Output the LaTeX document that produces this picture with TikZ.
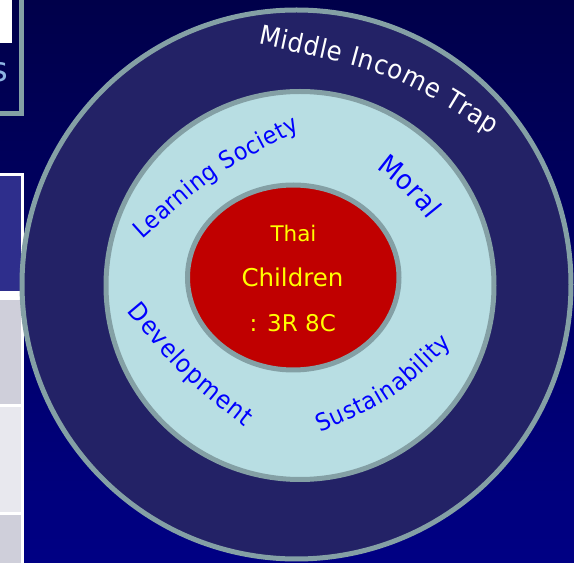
\documentclass[tikz,border=0pt]{standalone}
\usepackage{fontspec}
\newfontfamily\dejavu{DejaVu Sans}
\newfontfamily\dejavunarrow[FakeStretch=0.92]{DejaVu Sans}
\usetikzlibrary{decorations.text}
\definecolor{bgtop}{RGB}{0,0,74}
\definecolor{bgbot}{RGB}{0,0,132}
\definecolor{ringborder}{RGB}{132,160,165}
\definecolor{outerfill}{RGB}{35,34,102}
\definecolor{midfill}{RGB}{184,222,227}
\definecolor{innerfill}{RGB}{192,0,0}
\definecolor{tblblue}{RGB}{46,46,140}
\definecolor{tblgray}{RGB}{207,207,218}
\definecolor{tbllight}{RGB}{232,232,238}
\definecolor{sblue}{RGB}{141,180,226}
\definecolor{wordblue}{RGB}{0,0,255}
\definecolor{wordyellow}{RGB}{255,255,0}
\begin{document}
\begin{tikzpicture}[x=1pt,y=1pt,
  ring/.style={draw=ringborder, line width=5pt},
  centretext/.style={text=wordyellow, font=\dejavu, anchor=base, inner sep=0pt},
]
\useasboundingbox (0,0) rectangle (574,563);
\clip (0,0) rectangle (574,563);
\shade[top color=bgtop, bottom color=bgbot] (0,0) rectangle (574,563);
% left fragments
\fill[white] (-50,520) rectangle (11.5,600);
\draw[ringborder, line width=5pt] (-50,449.5) -- (21.5,449.5) -- (21.5,600);
\node[text=sblue, font=\dejavu\fontsize{34}{34}\selectfont, anchor=base east, inner sep=0pt] (sfrag) at (8.5,481) {s};
\fill[white] (-50,-10) rectangle (24,390);
\fill[tblblue] (-50,272) rectangle (20.7,387);
\fill[tblgray] (-50,159) rectangle (20.7,263);
\fill[tbllight] (-50,51) rectangle (20.7,156);
\fill[tblgray] (-50,-10) rectangle (20.7,48);
% rings
\filldraw[ring, fill=outerfill] (296.5,278.5) circle[radius=274.5];
\filldraw[ring, fill=midfill] (300,277.5) circle[radius=194];
\filldraw[ring, fill=innerfill] (293.25,285.5) ellipse[x radius=105.75, y radius=92.5];
% centre text
\node[centretext, font=\dejavu\fontsize{21.5}{21.5}\selectfont] (thai) at (293.5,321) {Thai};
\node[centretext, font=\dejavu\fontsize{24.5}{24.5}\selectfont] (children) at (292.5,276) {Children};
\node[centretext, font=\dejavu\fontsize{23}{23}\selectfont] (code) at (292.8,231) {: 3R 8C};
% curved texts
\path[decorate, decoration={text along path, text align=fit to path, text color=white,
  text={|\dejavunarrow\fontsize{26.5}{26.5}\selectfont|Middle Income Trap}}]
  (258,519) .. controls (391.4,490.6) .. (492,428);
\path[decorate, decoration={text along path, text align=fit to path, text color=wordblue,
  text={|\dejavunarrow\fontsize{24}{24}\selectfont|Learning Society}}]
  (142,323) .. controls (215.2,389) .. (300,433);
\path[decorate, decoration={text along path, text align=fit to path, text color=wordblue,
  text={|\dejavunarrow\fontsize{27.5}{27.5}\selectfont|Moral}}]
  (376,394) .. controls (405.2,371.2) .. (428,343);
\path[decorate, decoration={text along path, text align=fit to path, text color=wordblue,
  text={|\dejavunarrow\fontsize{25}{25}\selectfont|Development}}]
  (127,251) .. controls (182,185.7) .. (245,136);
\path[decorate, decoration={text along path, text align=fit to path, text color=wordblue,
  text={|\dejavunarrow\fontsize{24}{24}\selectfont|Sustainability}}]
  (320,130) .. controls (395.3,164.1) .. (452,219);
\end{tikzpicture}
\end{document}
